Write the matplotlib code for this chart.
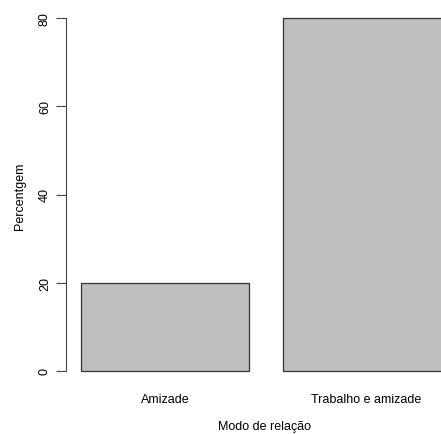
import matplotlib
matplotlib.use("Agg")
import matplotlib.pyplot as plt
import matplotlib.transforms as mtransforms

categories = ["Amizade", "Trabalho e amizade"]
percentages = [20, 80]
y_ticks = [0, 20, 40, 60, 80]

plt.rcParams['font.family'] = ['Liberation Sans', 'DejaVu Sans']
FS = 9

W, H = 441, 435
fig = plt.figure(figsize=(W / 100, H / 100), dpi=100)

# plot region in pixels (R style barplot, right side runs off the device)
left_px, right_px, top_px, bottom_px = 66, 441, 5, 386
ax = fig.add_axes([left_px / W, 1 - bottom_px / H,
                   (right_px - left_px) / W, (bottom_px - top_px) / H])

# R barplot: width 1, space 0.2
lefts = [0.2 + i * 1.2 for i in range(len(categories))]
centers = [l + 0.5 for l in lefts]
ax.bar(lefts, percentages, width=1.0, align="edge", color="#bebebe",
       edgecolor="#333333", linewidth=0.9)

ax.set_xlim(0.11, 0.2 + (right_px - 81) / 168)
ax.set_ylim(-3.2, 83.2)

for s in ["top", "right", "bottom"]:
    ax.spines[s].set_visible(False)
ax.spines["left"].set_bounds(0, 80)
ax.spines["left"].set_linewidth(0.8)
ax.spines["left"].set_color("#444444")

# y ticks, labels drawn rotated like R's default las=0
ax.set_yticks(y_ticks)
ax.set_yticklabels([])
ax.tick_params(axis="y", length=7, width=0.8, color="#444444")
trans = mtransforms.blended_transform_factory(fig.transFigure, ax.transData)
for v in y_ticks:
    ax.text(45 / W, v, str(v), transform=trans, rotation=90,
            ha="center", va="center", fontsize=FS)

ax.set_xticks(centers)
ax.set_xticklabels(categories, fontsize=FS)
ax.tick_params(axis="x", length=0, pad=6)

fig.text(265 / W, 1 - 427 / H, "Modo de relação", ha="center", va="center", fontsize=FS)
fig.text(20 / W, 1 - 196 / H, "Percentgem", ha="center", va="center",
         rotation=90, fontsize=FS)

fig.savefig("out.png", dpi=100)
